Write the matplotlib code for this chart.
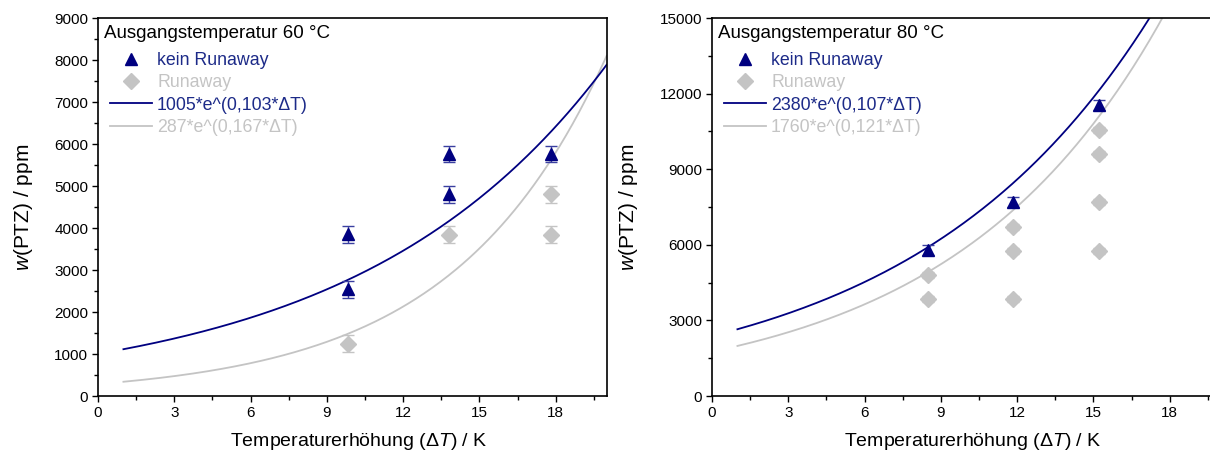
import numpy as np
import matplotlib
matplotlib.use("Agg")
import matplotlib.pyplot as plt
from matplotlib.lines import Line2D
from matplotlib.ticker import MultipleLocator

plt.rcParams["font.family"] = ["Liberation Sans", "DejaVu Sans"]
plt.rcParams["mathtext.fontset"] = "custom"
plt.rcParams["mathtext.rm"] = "Liberation Sans"
plt.rcParams["mathtext.it"] = "Liberation Sans:italic"

NAVY = "#000080"
NAVY_TXT = "#1c2a88"
GREY = "#c4c4c4"

# --- Ausgangstemperatur 60 °C ---
x60_ok = [9.85, 9.85, 13.8, 13.8, 17.8]
y60_ok = [3850, 2540, 5760, 4800, 5760]
e60_ok = [200, 200, 200, 200, 200]
x60_run = [9.85, 13.8, 17.8, 17.8]
y60_run = [1250, 3840, 4800, 3840]
e60_run = [200, 200, 200, 200]
fit60_ok = (1005, 0.103)
fit60_run = (287, 0.167)

# --- Ausgangstemperatur 80 °C ---
x80_ok = [8.5, 11.85, 15.2]
y80_ok = [5800, 7700, 11530]
e80_ok = [200, 200, 200]
x80_run = [8.5, 8.5, 11.85, 11.85, 11.85, 15.2, 15.2, 15.2, 15.2]
y80_run = [4810, 3850, 6720, 5760, 3850, 10560, 9600, 7680, 5760]
e80_run = [120, 120, 120, 120, 120, 120, 120, 120, 120]
fit80_ok = (2380, 0.107)
fit80_run = (1760, 0.121)

W, H = 1210, 454
fig = plt.figure(figsize=(W / 100, H / 100), dpi=100)
AX_W, AX_H = 508.6, 378
ax1 = fig.add_axes([98 / W, 58 / H, AX_W / W, AX_H / H])
ax2 = fig.add_axes([712 / W, 58 / H, AX_W / W, AX_H / H])


def fit_label(a, b):
    return f"{a}*e^(0,{round(b * 1000):03d}*\u0394T)"


def draw(ax, title, x_ok, y_ok, e_ok, x_run, y_run, e_run, f_ok, f_run,
         ymax, ystep, yminor):
    xs = np.linspace(1, 20, 300)
    ax.plot(xs, f_run[0] * np.exp(f_run[1] * xs), color=GREY, lw=1.3, zorder=2)
    ax.plot(xs, f_ok[0] * np.exp(f_ok[1] * xs), color=NAVY, lw=1.3, zorder=2)
    ax.errorbar(x_run, y_run, yerr=e_run, fmt="D", ms=8, color=GREY,
                mec=GREY, ecolor=GREY, elinewidth=1, capsize=4.5,
                capthick=1, zorder=3)
    ax.errorbar(x_ok, y_ok, yerr=e_ok, fmt="^", ms=9, color=NAVY,
                mec=NAVY, ecolor="#3a3fa0", elinewidth=1, capsize=4.5,
                capthick=1, zorder=4)

    ax.set_xlim(0, 20)
    ax.set_ylim(0, ymax)
    ax.xaxis.set_major_locator(MultipleLocator(3))
    ax.xaxis.set_minor_locator(MultipleLocator(1.5))
    ax.yaxis.set_major_locator(MultipleLocator(ystep))
    ax.yaxis.set_minor_locator(MultipleLocator(yminor))
    ax.tick_params(which="both", direction="out", labelsize=11, width=1,
                   top=False, right=False, colors="black")
    ax.tick_params(which="major", length=4.5, pad=2.5)
    ax.tick_params(which="minor", length=3)
    for s in ax.spines.values():
        s.set_linewidth(1.2)

    ax.set_xlabel(r"Temperaturerhöhung ($\mathit{\Delta T}$) / K",
                  fontsize=14, labelpad=8)
    ax.xaxis.label.set_x(0.5 + 6 / AX_W)
    ax.set_ylabel(r"$\mathit{w}$(PTZ) / ppm", fontsize=15, labelpad=14)

    ax.text(6 / AX_W, 1 - 16 / AX_H, title, transform=ax.transAxes,
            ha="left", va="center", fontsize=13.5, color="black")

    handles = [
        Line2D([], [], ls="none", marker="^", ms=9, color=NAVY),
        Line2D([], [], ls="none", marker="D", ms=8, color=GREY),
        Line2D([], [], color=NAVY, lw=1.3),
        Line2D([], [], color=GREY, lw=1.3),
    ]
    labels = ["kein Runaway", "Runaway",
              fit_label(*f_ok), fit_label(*f_run)]
    leg = ax.legend(handles, labels, loc="upper left",
                    bbox_to_anchor=(12 / AX_W, 1 - 34 / AX_H),
                    frameon=False, fontsize=12.8, handlelength=2.35,
                    handletextpad=0.3, labelspacing=0.3, borderaxespad=0,
                    borderpad=0)
    for t, c in zip(leg.get_texts(), [NAVY_TXT, GREY, NAVY_TXT, GREY]):
        t.set_color(c)


draw(ax1, "Ausgangstemperatur 60 °C", x60_ok, y60_ok, e60_ok, x60_run,
     y60_run, e60_run, fit60_ok, fit60_run, 9000, 1000, 500)
draw(ax2, "Ausgangstemperatur 80 °C", x80_ok, y80_ok, e80_ok, x80_run,
     y80_run, e80_run, fit80_ok, fit80_run, 15000, 3000, 1500)

fig.savefig("out.png", dpi=100)
